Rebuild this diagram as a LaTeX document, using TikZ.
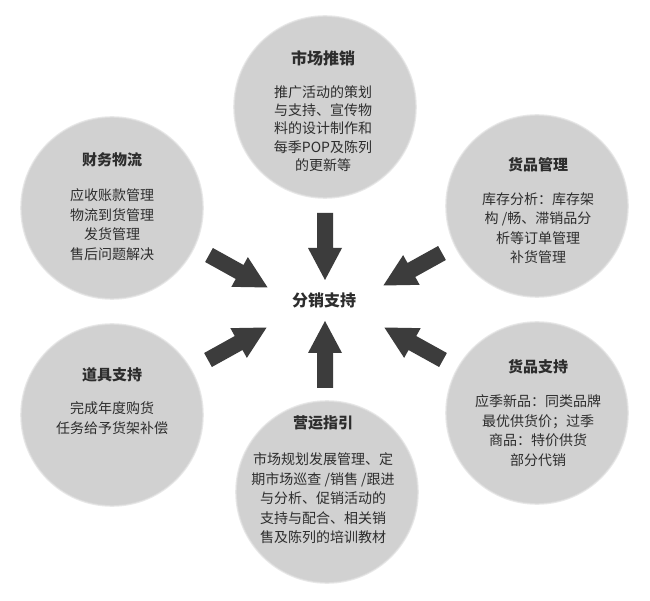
\documentclass[tikz,border=0pt]{standalone}
\usepackage{fontspec}
\setmainfont{Noto Sans CJK SC}
\definecolor{circfill}{RGB}{209,209,209}
\definecolor{circedge1}{RGB}{218,218,218}
\definecolor{circedge2}{RGB}{232,232,232}
\definecolor{arrfill}{RGB}{60,60,60}
\definecolor{txt}{RGB}{45,45,45}
\tikzset{
  bubble/.style={circle, fill=circfill, minimum size=180pt, inner sep=0pt},
  ttl/.style={font=\fontsize{15}{18}\selectfont\bfseries, text=txt, inner sep=0pt},
  bigttl/.style={font=\fontsize{16}{19}\selectfont\bfseries, text=txt, inner sep=0pt},
  body/.style={font=\fontsize{14}{19.5}\selectfont, text=txt, align=center, inner sep=0pt},
  arrowfill/.style={fill=arrfill}
}
\newcommand\blockarr[3]{%
  \fill[arrowfill, shift={(#1,#2)}, rotate=#3]
    (0,-8) -- (35,-8) -- (35,-17) -- (67,0) -- (35,17) -- (35,8) -- (0,8) -- cycle;}
\newcommand\softbubble[3]{%
  \fill[circedge2] (#2) circle (91.8pt);
  \fill[circedge1] (#2) circle (90.8pt);
  \node[bubble] (#1) at (#2) {};}
\begin{document}
\begin{tikzpicture}[x=1pt,y=1pt]
\useasboundingbox[fill=white] (0,0) rectangle (650,600);
% circles
\softbubble{top}{325,493}{}
\softbubble{lt}{112,392}{}
\softbubble{rt}{537,394}{}
\softbubble{bot}{327,108}{}
\softbubble{rb}{537,187}{}
\softbubble{lb}{112,185}{}
% titles
\node[bigttl] (ttop) at (323,542) {市场推销};
\node[ttl] (tlt) at (112,440) {财务物流};
\node[ttl] (trt) at (538,435) {货品管理};
\node[ttl] (tbot) at (323,177) {营运指引};
\node[ttl] (trb) at (538,233) {货品支持};
\node[ttl] (tlb) at (112,225) {道具支持};
\node[bigttl] (center) at (324,300) {分销支持};
% bodies
\node[body, font=\fontsize{14}{18.3}\selectfont] (btop) at (323,471.5) {推广活动的策划\\与支持、宣传物\\料的设计制作和\\每季POP及陈列\\的更新等};
\node[body] (blt) at (112,375.5) {应收账款管理\\物流到货管理\\发货管理\\售后问题解决};
\node[body] (brt) at (538,372) {库存分析：库存架\\构 /畅、滞销品分\\析等订单管理\\补货管理};
\node[body] (bbot) at (323,101.5) {市场规划发展管理、定\\期市场巡查 /销售 /跟进\\与分析、促销活动的\\支持与配合、相关销\\售及陈列的培训教材};
\node[body] (brb) at (538,169.5) {应季新品：同类品牌\\最优供货价；过季\\商品：特价供货\\部分代销};
\node[body] (blb) at (112,182) {完成年度购货\\任务给予货架补偿};
% arrows
\blockarr{325}{387}{-90}
\blockarr{325}{212}{90}
\blockarr{209}{345}{-29}
\blockarr{442}{347}{209}
\blockarr{208}{240}{29}
\blockarr{443}{240}{151}
\end{tikzpicture}
\end{document}
